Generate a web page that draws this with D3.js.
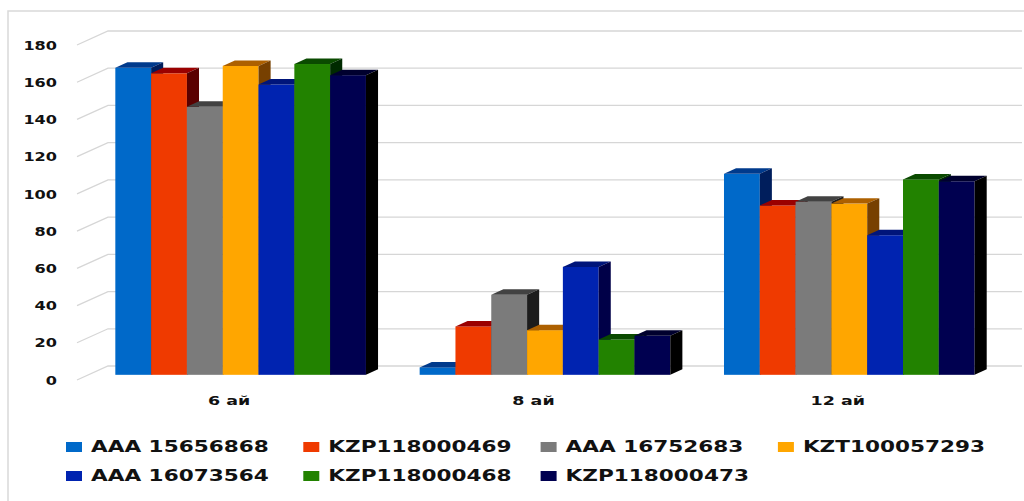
<!DOCTYPE html>
<html>
<head>
<meta charset="utf-8">
<script src="https://cdn.jsdelivr.net/npm/d3@7"></script>
<style>
  html, body { margin: 0; padding: 0; background: #fff; }
  svg { display: block; }
  text { font-family: "DejaVu Sans", Verdana, sans-serif; font-weight: bold; fill: #111; }
</style>
</head>
<body>
<svg id="chart" width="1024" height="501"></svg>
<script>
// Categories (months) and series names
const categories = ["6 ай", "8 ай", "12 ай"];
const seriesNames = ["AAA 15656868", "KZP118000469", "AAA 16752683", "KZT100057293",
                     "AAA 16073564", "KZP118000468", "KZP118000473"];

// Values per series, one per category
const aaa15656868  = [165, 4, 108];
const kzp118000469 = [162, 26, 91];
const aaa16752683  = [144, 43, 93];
const kzt100057293 = [166, 24, 92];
const aaa16073564  = [156, 58, 75];
const kzp118000468 = [167, 19, 105];
const kzp118000473 = [161, 21, 104];

const yTicks = [0, 20, 40, 60, 80, 100, 120, 140, 160, 180];

// Face colours: front, top, side
const frontColors = ["#0069c9", "#ef3a00", "#7b7b7b", "#ffa600", "#0023b0", "#228200", "#000050"];
const topColors   = ["#003a8c", "#9a0000", "#424242", "#ad6000", "#00157a", "#0a4a00", "#00002e"];
const sideColors  = ["#001e5c", "#5a0000", "#1c1c1c", "#774000", "#000048", "#002a00", "#000000"];

const seriesValues = [aaa15656868, kzp118000469, aaa16752683, kzt100057293,
                      aaa16073564, kzp118000468, kzp118000473];

const svg = d3.select("#chart");
const STRETCH = 1.4;      // horizontal text stretch
const DEPTH_X = 31, DEPTH_Y = 14;   // oblique offset from floor front edge to back wall
const D_FRONT = 0.37, D_BACK = 0.76; // bar depth placement (fraction of floor depth)
const PLOT_LEFT = 77, PLOT_RIGHT = 990;

// Chart area border
svg.append("rect")
  .attr("x", 8).attr("y", 11).attr("width", 1200).attr("height", 700)
  .attr("fill", "none").attr("stroke", "#d9d9d9").attr("stroke-width", 1.5);

const y = d3.scaleLinear().domain([0, 180]).range([380, 45]);
const x = d3.scaleBand().domain(categories).range([PLOT_LEFT, PLOT_RIGHT]).paddingInner(0).paddingOuter(0);
const xs = d3.scaleBand().domain(seriesNames).range([0, x.bandwidth()]).paddingInner(0).paddingOuter(0.75);

// Gridlines: short receding stub on the side wall, then across the back wall
const grid = svg.append("g").attr("fill", "none").attr("stroke", "#d6d6d6").attr("stroke-width", 1.3);
yTicks.forEach(v => {
  const y0 = y(v);
  grid.append("polyline")
    .attr("points", [[PLOT_LEFT, y0], [PLOT_LEFT + DEPTH_X, y0 - DEPTH_Y], [PLOT_RIGHT + DEPTH_X + 1, y0 - DEPTH_Y]]
      .map(p => p.join(",")).join(" "));
});

// Value axis labels
const yAxis = svg.append("g")
  .attr("transform", "translate(57,0)")
  .call(d3.axisLeft(y).tickValues(yTicks).tickSize(0).tickPadding(0));
yAxis.select(".domain").remove();
yAxis.selectAll("text")
  .attr("x", 0)
  .attr("dy", "0.36em")
  .attr("transform", `scale(${STRETCH},1)`)
  .style("font-family", "DejaVu Sans")
  .style("font-weight", "bold")
  .style("font-size", "11.5px")
  .attr("fill", "#111");

// 3D columns
const bars = svg.append("g");
categories.forEach((cat, ci) => {
  seriesNames.forEach((name, si) => {
    const v = seriesValues[si][ci];
    const X = x(cat) + xs(name);
    const w = xs.bandwidth();
    const fx = D_FRONT * DEPTH_X, fy = D_FRONT * DEPTH_Y;
    const bx = D_BACK * DEPTH_X, by = D_BACK * DEPTH_Y;
    const yt = y(v), yb = y(0);
    const g = bars.append("g");
    // front face
    g.append("rect")
      .attr("x", X + fx).attr("y", yt - fy)
      .attr("width", w).attr("height", yb - yt)
      .attr("fill", frontColors[si]);
    // top face
    g.append("polygon")
      .attr("points", [[X + fx, yt - fy], [X + w + fx, yt - fy], [X + w + bx, yt - by], [X + bx, yt - by]]
        .map(p => p.join(",")).join(" "))
      .attr("fill", topColors[si]);
    // right side face
    g.append("polygon")
      .attr("points", [[X + w + fx, yt - fy], [X + w + bx, yt - by], [X + w + bx, yb - by], [X + w + fx, yb - fy]]
        .map(p => p.join(",")).join(" "))
      .attr("fill", sideColors[si]);
  });
});

// Category axis labels
const xAxis = svg.append("g")
  .attr("transform", "translate(0,400)")
  .call(d3.axisBottom(x).tickSize(0).tickPadding(0));
xAxis.select(".domain").remove();
xAxis.selectAll("text")
  .attr("y", 0)
  .attr("dy", "0.36em")
  .attr("transform", `scale(${STRETCH},1)`)
  .style("font-family", "DejaVu Sans")
  .style("font-weight", "bold")
  .style("font-size", "12.5px")
  .attr("fill", "#111");

// Legend
const legendCol = d3.scaleLinear().domain([0, 1]).range([66, 303.3]);
const legend = svg.append("g");
seriesNames.forEach((name, i) => {
  const col = i % 4, row = Math.floor(i / 4);
  const lx = legendCol(col), ly = 447 + row * 29;
  legend.append("rect")
    .attr("x", lx).attr("y", ly - 5)
    .attr("width", 16).attr("height", 10)
    .attr("fill", frontColors[i]);
  legend.append("text")
    .attr("transform", `translate(${lx + 25},${ly}) scale(1.44,1)`)
    .attr("dy", "0.36em")
    .style("font-size", "15px")
    .text(name);
});
</script>
</body>
</html>
